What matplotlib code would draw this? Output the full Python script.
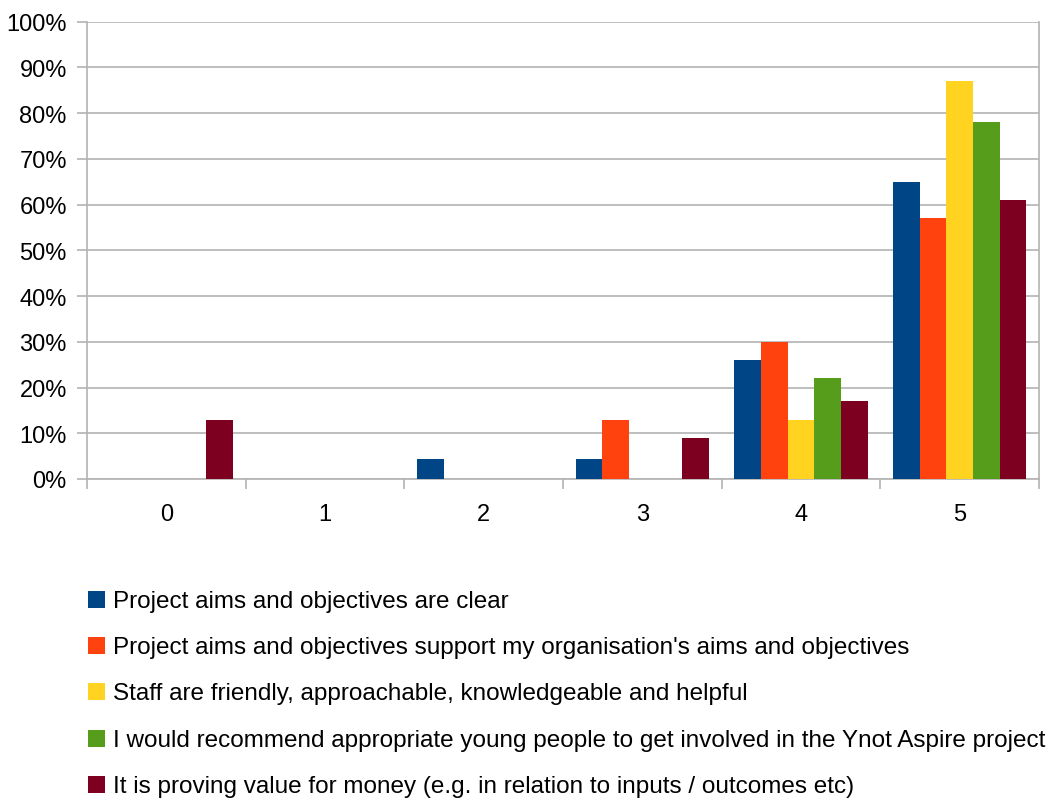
import matplotlib
matplotlib.use("Agg")
import matplotlib.pyplot as plt
from matplotlib.patches import Rectangle
from matplotlib.ticker import FixedLocator, PercentFormatter
import numpy as np

plt.rcParams["font.family"] = ["Liberation Sans", "DejaVu Sans"]

categories = ["0", "1", "2", "3", "4", "5"]
series_names = [
    "Project aims and objectives are clear",
    "Project aims and objectives support my organisation's aims and objectives",
    "Staff are friendly, approachable, knowledgeable and helpful",
    "I would recommend appropriate young people to get involved in the Ynot Aspire project",
    "It is proving value for money (e.g. in relation to inputs / outcomes etc)",
]
aims_clear = [0, 0, 4.3, 4.3, 26, 65]
aims_support = [0, 0, 0, 13, 30, 57]
staff_friendly = [0, 0, 0, 0, 13, 87]
would_recommend = [0, 0, 0, 0, 22, 78]
value_for_money = [13, 0, 0, 9, 17, 61]
series_values = [aims_clear, aims_support, staff_friendly, would_recommend, value_for_money]
colors = ["#004586", "#ff420e", "#ffd320", "#579d1c", "#7e0021"]

W, H = 1056, 804
fig = plt.figure(figsize=(W / 100, H / 100), dpi=100)
ax = fig.add_axes([87 / W, (H - 480) / H, (1039 - 87) / W, (480 - 22.7) / H])

n = len(series_values)
bar_w = 0.168
x = np.arange(len(categories))
for i, (vals, col) in enumerate(zip(series_values, colors)):
    offs = (i - (n - 1) / 2) * bar_w
    ax.bar(x + offs, vals, width=bar_w, color=col, zorder=3, linewidth=0)

ax.set_xlim(-0.5, len(categories) - 0.5)
ax.set_ylim(0, 100)
ax.yaxis.set_major_locator(FixedLocator(np.arange(0, 101, 10)))
ax.yaxis.set_major_formatter(PercentFormatter(decimals=0))
ax.grid(axis="y", color="#b3b3b3", linewidth=1.2, zorder=0)
ax.set_axisbelow(True)

ax.set_xticks(x)
ax.set_xticklabels(categories)
ax.set_xticks(np.arange(-0.5, len(categories), 1), minor=True)
ax.tick_params(axis="x", which="major", length=0, pad=17, labelsize=17)
ax.tick_params(axis="x", which="minor", length=7.5, width=1.2, color="#b3b3b3", direction="out")
ax.tick_params(axis="y", length=7.5, width=1.2, color="#b3b3b3", pad=7, labelsize=17)

for s in ax.spines.values():
    s.set_color("#b3b3b3")
    s.set_linewidth(1.2)
ax.spines["top"].set_visible(False)

# legend drawn as a column of swatches and labels below the plot
row_y0 = 600.5
row_step = 46.2
for i, (name, col) in enumerate(zip(series_names, colors)):
    cy = row_y0 + i * row_step
    fig.patches.append(Rectangle((88 / W, (H - cy - 8.5) / H), 17 / W, 17 / H,
                                 transform=fig.transFigure, facecolor=col,
                                 edgecolor="none", figure=fig))
    fig.text(113 / W, (H - cy - 1.5) / H, name, fontsize=17.5, va="center", ha="left")

fig.savefig("out.png", dpi=100)
